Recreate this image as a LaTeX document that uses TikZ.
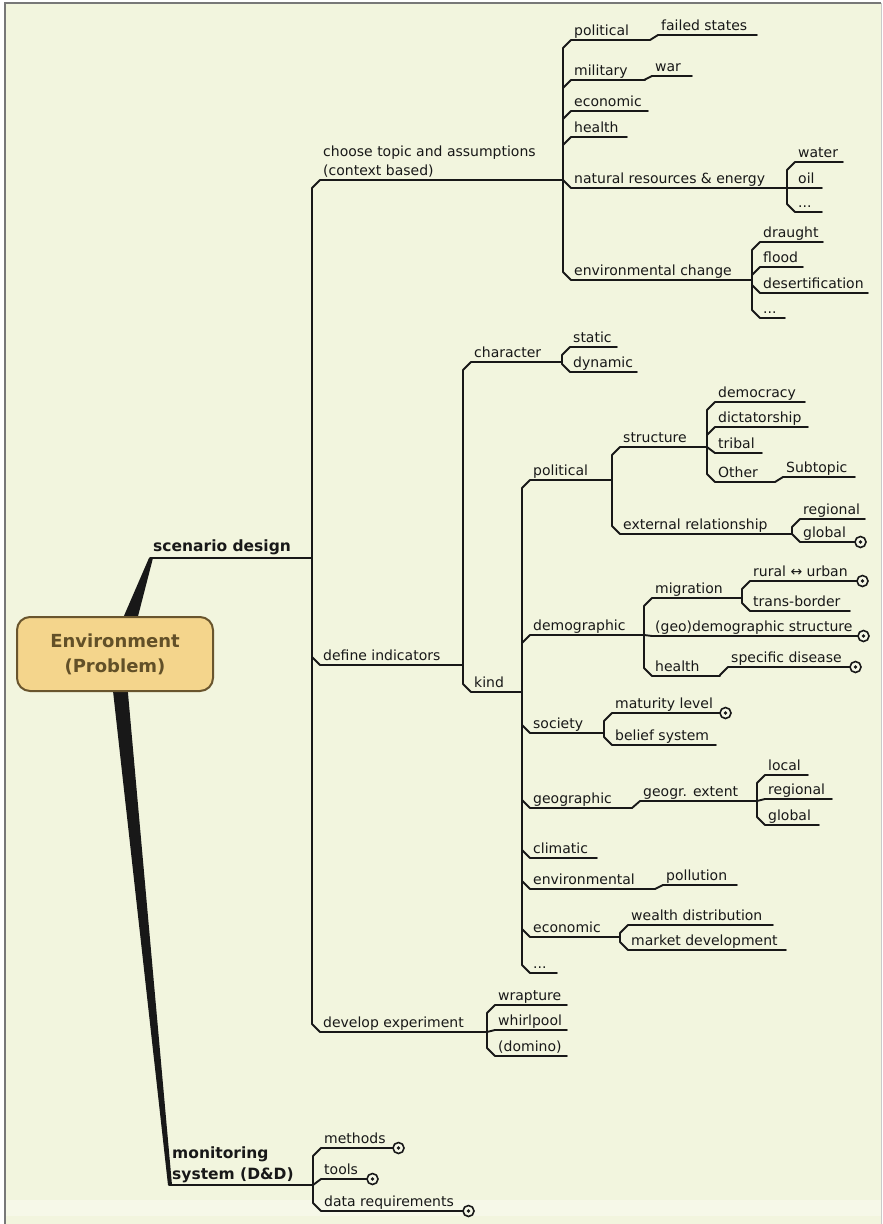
\documentclass[tikz,border=0pt]{standalone}
\usepackage{fontspec}
\setmainfont{DejaVu Sans}
\usetikzlibrary{calc}

\definecolor{bg}{RGB}{242,245,222}
\definecolor{bglight}{RGB}{246,248,232}
\definecolor{ink}{RGB}{24,24,24}
\definecolor{boxfill}{RGB}{244,213,140}
\definecolor{boxdraw}{RGB}{105,85,45}
\definecolor{boxtext}{RGB}{98,80,40}
\definecolor{frame}{RGB}{120,120,120}

\pgfdeclarelayer{back}
\pgfdeclarelayer{mid}
\pgfsetlayers{back,mid,main}

\tikzset{
  branch/.style={draw=ink, line width=1.9pt, line join=round, line cap=round},
  lbl/.style={anchor=base west, inner sep=0pt, text=ink,
              font=\fontsize{14}{19}\selectfont},
  biglbl/.style={font=\bfseries\fontsize{15.5}{21}\selectfont},
  envbox/.style={draw=boxdraw, line width=2pt, fill=boxfill, rounded corners=13pt,
                 minimum width=196pt, minimum height=74pt, align=center,
                 text=boxtext, font=\bfseries\fontsize{18}{25}\selectfont},
  knob/.style={circle, draw=ink, line width=1.6pt, fill=bglight,
               minimum size=11pt, inner sep=0pt}
}

% a topic: label sitting on its underline; #2 name, #3 x start, #4 x end, #5 y
\newcommand\mmtopic[6][]{%
  \coordinate (#2-s) at (#3,#5);
  \coordinate (#2-e) at (#4,#5);
  \draw[branch] (#2-s) -- (#2-e);
  \node[lbl,#1] (#2) at (#3+3,#5-5) {#6};}

% branch from the end of a parent underline to the start of a child underline,
% via a vertical spine with a chamfered corner
\newcommand\mmlink[2]{%
  \draw[branch] let \p1=(#1-e), \p2=(#2-s),
    \n1={min(8,abs(\y2-\y1))*sign(\y2-\y1)} in
    (\p1) -- (\x2-8pt,\y1) -- (\x2-8pt,\y2-\n1) -- (\p2);}

% collapsed-branch marker at the end of an underline
\newcommand\knobat[1]{%
  \node[knob] (#1-m) at ([xshift=5.5pt]#1-e) {};
  \fill[ink] (#1-m.center) circle (1.9pt);}

\begin{document}
\begin{tikzpicture}[x=1pt,y=-1pt]
\useasboundingbox (0,0) rectangle (883,1224);

% page background and frame
\begin{pgfonlayer}{back}
  \fill[white] (0,0) rectangle (883,1224);
  \fill[bg] (5,3) rectangle (881,1224);
  \fill[bglight] (5,1200) rectangle (881,1216);
  \draw[frame, line width=1.2pt] (5,1224) -- (5,3) -- (881,3);
  \draw[frame!40, line width=1pt] (881,3) -- (881,1224);
\end{pgfonlayer}

% central topic
\node[envbox] (env) at (115,654) {Environment\\(Problem)};

% main topics
\mmtopic[biglbl, yshift=2pt]{scen}{150}{305}{558}{scenario design}
\mmtopic[biglbl, anchor=south west, align=left, yshift=-3pt]{monit}{169}{306}{1185}{monitoring\\system (D\&D)}

\begin{pgfonlayer}{mid}
  \fill[ink] ([xshift=4.6pt,yshift=-10pt]env.north) -- ([xshift=20.5pt,yshift=-10pt]env.north)
     -- ([xshift=3pt]scen-s) -- ([xshift=-1pt]scen-s) -- cycle;
  \fill[ink] ([xshift=-3pt,yshift=10pt]env.south) -- ([xshift=12pt,yshift=10pt]env.south)
     -- ([xshift=3pt]monit-s) -- ([xshift=-1pt]monit-s) -- cycle;
\end{pgfonlayer}

% scenario design
\mmtopic[anchor=south west, align=left, yshift=-3pt]{choose}{320}{555}{180}{choose topic and assumptions\\(context based)}
\mmtopic{define}{320}{455}{665}{define indicators}
\mmtopic{develop}{320}{480}{1032}{develop experiment}
\mmlink{scen}{choose}
\mmlink{scen}{define}
\mmlink{scen}{develop}

% choose topic and assumptions
\mmtopic{polA}{571}{650}{40}{political}
\mmtopic{failed}{658}{757}{35}{failed states}
\mmtopic{military}{571}{645}{80}{military}
\mmtopic{war}{652}{692}{76}{war}
\mmtopic{econA}{571}{648}{111}{economic}
\mmtopic{healthA}{571}{627}{137}{health}
\mmtopic{natural}{571}{780}{188}{natural resources \& energy}
\mmtopic{water}{795}{843}{162}{water}
\mmtopic{oil}{795}{822}{188}{oil}
\mmtopic{dotsA}{795}{822}{212}{...}
\mmtopic{envchange}{571}{745}{280}{environmental change}
\mmtopic{draught}{760}{823}{242}{draught}
\mmtopic{flood}{760}{803}{267}{flood}
\mmtopic{desert}{760}{868}{293}{desertification}
\mmtopic{dotsB}{760}{785}{318}{...}
\foreach \c in {polA,military,econA,healthA,natural,envchange} {\mmlink{choose}{\c}}
\mmlink{polA}{failed}
\mmlink{military}{war}
\foreach \c in {water,oil,dotsA} {\mmlink{natural}{\c}}
\foreach \c in {draught,flood,desert,dotsB} {\mmlink{envchange}{\c}}

% define indicators
\mmtopic{character}{471}{555}{362}{character}
\mmtopic{static}{570}{617}{347}{static}
\mmtopic{dynamic}{570}{637}{372}{dynamic}
\mmtopic{kind}{471}{515}{692}{kind}
\mmlink{define}{character}
\mmlink{define}{kind}
\mmlink{character}{static}
\mmlink{character}{dynamic}

% kind
\mmtopic{polB}{530}{605}{480}{political}
\mmtopic{structure}{620}{700}{447}{structure}
\mmtopic{democracy}{715}{805}{402}{democracy}
\mmtopic{dictatorship}{715}{808}{427}{dictatorship}
\mmtopic{tribal}{715}{762}{453}{tribal}
\mmtopic{other}{715}{765}{482}{Other}
\mmtopic{subtopic}{783}{855}{477}{Subtopic}
\mmtopic{external}{620}{785}{534}{external relationship}
\mmtopic{regionalA}{800}{865}{519}{regional}
\mmtopic{globalA}{800}{855}{542}{global}
\knobat{globalA}
\mmlink{polB}{structure}
\mmlink{polB}{external}
\foreach \c in {democracy,dictatorship,tribal,other} {\mmlink{structure}{\c}}
\mmlink{other}{subtopic}
\mmlink{external}{regionalA}
\mmlink{external}{globalA}

\mmtopic{demographic}{530}{637}{635}{demographic}
\mmtopic{migration}{652}{733}{598}{migration}
\mmtopic{rural}{750}{857}{581}{rural ↔ urban}
\mmtopic{transborder}{750}{850}{611}{trans-border}
\mmtopic{geodemo}{652}{858}{636}{(geo)demographic structure}
\mmtopic{healthB}{652}{718}{676}{health}
\mmtopic{disease}{728}{850}{667}{specific disease}
\knobat{rural}
\knobat{geodemo}
\knobat{disease}
\foreach \c in {migration,geodemo,healthB} {\mmlink{demographic}{\c}}
\mmlink{migration}{rural}
\mmlink{migration}{transborder}
\mmlink{healthB}{disease}

\mmtopic{society}{530}{598}{733}{society}
\mmtopic{maturity}{612}{720}{713}{maturity level}
\mmtopic{belief}{612}{716}{745}{belief system}
\knobat{maturity}
\mmlink{society}{maturity}
\mmlink{society}{belief}

\mmtopic{geographic}{530}{630}{808}{geographic}
\mmtopic{extent}{640}{750}{801}{geogr. extent}
\mmtopic{local}{765}{808}{775}{local}
\mmtopic{regionalB}{765}{832}{799}{regional}
\mmtopic{globalB}{765}{819}{825}{global}
\mmlink{geographic}{extent}
\foreach \c in {local,regionalB,globalB} {\mmlink{extent}{\c}}

\mmtopic{climatic}{530}{597}{858}{climatic}
\mmtopic{environmental}{530}{655}{889}{environmental}
\mmtopic{pollution}{663}{737}{885}{pollution}
\mmlink{environmental}{pollution}

\mmtopic{econB}{530}{612}{937}{economic}
\mmtopic{wealth}{628}{773}{925}{wealth distribution}
\mmtopic{market}{628}{786}{950}{market development}
\mmlink{econB}{wealth}
\mmlink{econB}{market}

\mmtopic{dotsC}{530}{557}{973}{...}

\foreach \c in {polB,demographic,society,geographic,climatic,environmental,econB,dotsC} {\mmlink{kind}{\c}}

% develop experiment
\mmtopic{wrapture}{495}{567}{1005}{wrapture}
\mmtopic{whirlpool}{495}{567}{1030}{whirlpool}
\mmtopic{domino}{495}{567}{1056}{(domino)}
\foreach \c in {wrapture,whirlpool,domino} {\mmlink{develop}{\c}}

% monitoring system
\mmtopic{methods}{321}{393}{1148}{methods}
\mmtopic{tools}{321}{367}{1179}{tools}
\mmtopic{datareq}{321}{463}{1211}{data requirements}
\foreach \c in {methods,tools,datareq} {\mmlink{monit}{\c}\knobat{\c}}

\end{tikzpicture}
\end{document}
